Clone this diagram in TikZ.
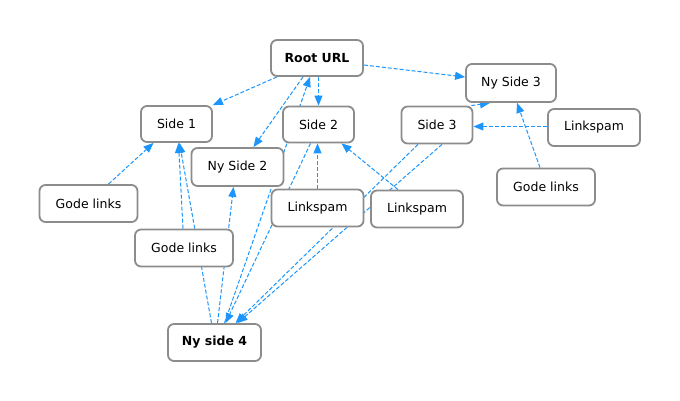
\documentclass[tikz,border=0pt]{standalone}
\usepackage{fontspec}
\setmainfont{DejaVu Sans}
\usetikzlibrary{arrows.meta,backgrounds}
\definecolor{edgeblue}{RGB}{28,150,252}
\definecolor{boxgray}{RGB}{140,140,140}
\begin{document}
\begin{tikzpicture}[x=1pt,y=-1pt,
  pagebox/.style={draw=boxgray,line width=1.8pt,rounded corners=6pt,fill=white,
    font=\fontsize{12.5}{15}\selectfont,inner sep=0pt,minimum height=37pt},
  boldbox/.style={pagebox,font=\fontsize{12.5}{15}\selectfont\bfseries},
  link/.style={draw=edgeblue,line width=1pt,dash pattern=on 4pt off 2pt,
    -{Triangle[length=10pt,width=8pt]}}]
\useasboundingbox (0,0) rectangle (680,401);
% nodes
\node[boldbox,minimum width=92pt,minimum height=36pt] (root) at (317,58) {Root URL};
\node[pagebox,minimum width=71pt,minimum height=36pt] (s1) at (176.5,124) {Side 1};
\node[pagebox,minimum width=71pt,minimum height=36pt] (s2) at (318.5,124.5) {Side 2};
\node[pagebox,minimum width=92pt,minimum height=38pt] (ns2) at (237.5,167) {Ny Side 2};
\node[pagebox,minimum width=90pt,minimum height=38pt] (ns3) at (511,83) {Ny Side 3};
\node[pagebox,minimum width=71pt] (s3) at (437,125) {Side 3};
\node[pagebox,minimum width=92pt] (ls3) at (594,127.5) {Linkspam};
\node[pagebox,minimum width=98pt] (gl3) at (546,187) {Gode links};
\node[pagebox,minimum width=98pt] (gl1) at (88.5,203.5) {Gode links};
\node[pagebox,minimum width=98pt] (gl2) at (184,248) {Gode links};
\node[pagebox,minimum width=92pt] (ls1) at (317.5,208) {Linkspam};
\node[pagebox,minimum width=92pt] (ls2) at (417,209) {Linkspam};
\node[boldbox,minimum width=93pt] (ns4) at (214.5,342.5) {Ny side 4};
% connectors
\begin{pgfonlayer}{background}
\fill[white] (0,0) rectangle (680,401);
\draw[link] ([xshift=-40pt]root.south) -- (s1.north east);
\draw[link] ([xshift=-14pt]root.south) -- ([xshift=16pt]ns2.north);
\draw[link] ([xshift=10pt]ns4.north) -- ([xshift=-7pt]root.south);
\draw[link] (s2.north |- root.south) -- (s2.north);
\draw[link] ([yshift=-7pt]root.east) -- ([yshift=6pt]ns3.west);
\draw[link] ([xshift=-2pt]s3.north east) -- ([xshift=-21pt]ns3.south);
\draw[link] ([yshift=1pt]ls3.west) -- ([yshift=1pt]ls3.west -| s3.east);
\draw[link] ([xshift=-6pt]gl3.north) -- ([xshift=6pt]ns3.south);
\draw[link] ([xshift=20pt]gl1.north) -- ([xshift=-23pt]s1.south);
\draw[link] ([xshift=-1pt]gl2.north) -- ([xshift=2pt]s1.south);
\draw[link] ([xshift=-3pt]ns4.north) -- ([xshift=3pt]s1.south);
\draw[link] ([xshift=3pt]ns4.north) -- ([xshift=-4pt]ns2.south);
\draw[link] ([xshift=-8pt]s2.south) -- ([xshift=11pt]ns4.north);
\draw[link] (ls1.north) -- (ls1.north |- s2.south);
\draw[link] ([xshift=-19pt]ls2.north) -- ([xshift=23pt]s2.south);
\draw[link] ([xshift=-19pt]s3.south) -- ([xshift=21pt]ns4.north);
\draw[link] ([xshift=5pt]s3.south) -- ([xshift=23pt]ns4.north);
\end{pgfonlayer}
\end{tikzpicture}
\end{document}
